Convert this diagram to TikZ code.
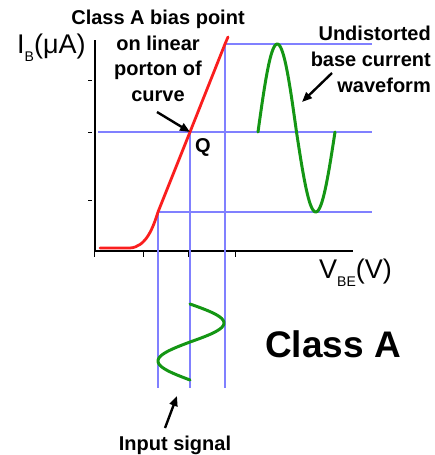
\documentclass[tikz,border=0pt]{standalone}
\usepackage{fontspec}
\setmainfont{Liberation Sans}
\usetikzlibrary{arrows.meta}
\definecolor{guideblue}{RGB}{128,128,255}
\definecolor{curvered}{RGB}{250,30,30}
\definecolor{wavegreen}{RGB}{20,150,20}
\begin{document}
\begin{tikzpicture}[x=1pt,y=-1pt,
  axisline/.style={line width=2.8pt,black},
  tickline/.style={line width=1pt,black},
  guide/.style={line width=1.8pt,guideblue},
  redcurve/.style={line width=2.8pt,curvered,line cap=round,line join=round},
  wave/.style={line width=3pt,wavegreen,line cap=round},
  pointer/.style={line width=2.4pt,black,-{Triangle[length=10pt,width=8pt]}},
  lbl/.style={font=\bfseries\fontsize{20}{25.7}\selectfont,inner sep=0pt},
  axlbl/.style={font=\fontsize{27}{30}\selectfont,inner sep=0pt}]
\useasboundingbox (0,0) rectangle (435,455);
% key points
\coordinate (O) at (95,251);
\coordinate (Ytop) at (95,40);
\coordinate (Xend) at (353,251);
\coordinate (Q) at (190,132);
\coordinate (Lo) at (158,212);
\coordinate (Hi) at (225,44);
% axes
\draw[axisline] (Ytop) -- (O) -- (Xend);
\foreach \yy in {80,132,200} \draw[tickline] (88,\yy) -- (92,\yy);
\foreach \xx in {94,143,188,235} \draw[tickline] (\xx,251) -- (\xx,257);
% guide lines
\draw[guide] (98,132) -- (372,132);
\draw[guide] (Lo) -- (372,212);
\draw[guide] (Hi) -- (372,44);
\draw[guide] (Lo) -- (158,388);
\draw[guide] (Q) -- (190,388);
\draw[guide] (Hi) -- (225,388);
% transfer curve
\draw[redcurve] (100,248) -- (130,248) .. controls (146,247) and (153,228) .. (Lo) -- (Q) -- (Hi) -- (228,37);
% output waveform
\draw[wave] plot[domain=0:180,samples=40,variable=\t] ({258+\t/360*77},{132-88*sin(\t)})
  -- plot[domain=180:360,samples=40,variable=\t] ({258+\t/360*77},{132-80*sin(\t)});
% input waveform
\draw[wave] plot[domain=0:180,samples=40,variable=\t] ({190+34*sin(\t)},{304+\t/360*76})
  -- plot[domain=180:360,samples=40,variable=\t] ({190+32*sin(\t)},{304+\t/360*76});
% labels
\node[axlbl,anchor=base west] (ib) at (17,53) {I\raisebox{-0.3em}{\fontsize{14}{14}\selectfont B}(μA)};
\node[axlbl,anchor=base west] (vbe) at (319,278) {V\raisebox{-0.3em}{\fontsize{14}{14}\selectfont BE}(V)};
\node[lbl,align=center] (bias) at (158,56) {Class A bias point\\on linear\\porton of\\curve};
\node[lbl,align=right,anchor=east] (undist) at (431,59.5) {Undistorted\\base current\\waveform};
\node[lbl,anchor=base] (qlbl) at (203,152) {Q};
\node[lbl,anchor=base] (input) at (175,450) {Input signal};
\node[font=\bfseries\fontsize{37}{40}\selectfont,inner sep=0pt,anchor=base] (classa) at (333,357) {Class A};
% pointers
\coordinate (p1s) at (157,112);
\coordinate (p2s) at (332,73);
\coordinate (p2e) at (302,102);
\coordinate (p3s) at (165,428);
\coordinate (p3e) at (177,396);
\draw[pointer] (p1s) -- (Q);
\draw[pointer] (p2s) -- (p2e);
\draw[pointer] (p3s) -- (p3e);
\end{tikzpicture}
\end{document}
